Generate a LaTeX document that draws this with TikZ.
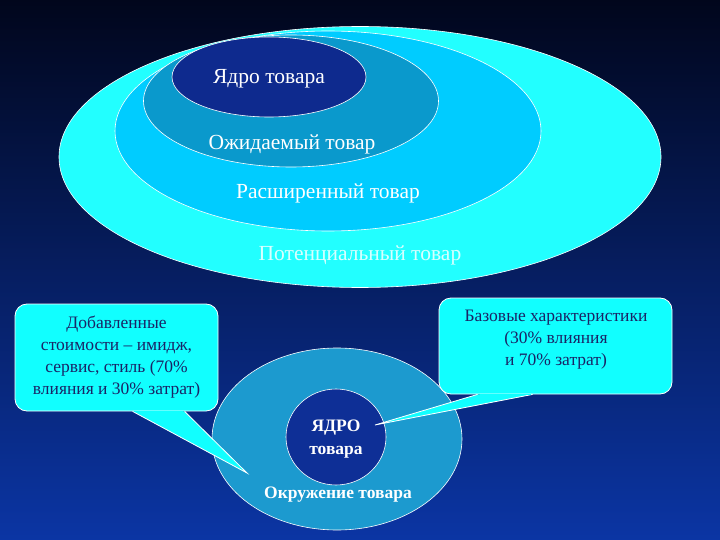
\documentclass[tikz,border=0pt]{standalone}
\usepackage{fontspec}
\setmainfont{Liberation Serif}
\usetikzlibrary{shapes.geometric}

\definecolor{bgtop}{HTML}{01061C}
\definecolor{bgmid}{HTML}{0A2A88}
\definecolor{bgbot}{HTML}{0B35A4}
\definecolor{potcyan}{HTML}{22FFFF}
\definecolor{extblue}{HTML}{00CCFF}
\definecolor{expblue}{HTML}{0A99CC}
\definecolor{coreblue}{HTML}{0E2A8E}
\definecolor{ringblue}{HTML}{1C9ACF}
\definecolor{kernelblue}{HTML}{0E2F96}
\definecolor{callcyan}{HTML}{11FFFF}
\definecolor{calltext}{HTML}{1A2466}
\definecolor{pottext}{HTML}{D8FFFF}

\tikzset{
  oval/.style={ellipse, draw=white, line width=0.6pt, inner sep=0pt},
  ovaltext/.style={text=white, font=\fontsize{21.5}{24}\selectfont},
  bubble/.style={draw=white, line width=0.8pt, fill=callcyan, rounded corners=12pt,
    inner sep=0pt, align=center, text=calltext, font=\fontsize{17.5}{22}\selectfont},
  tipline/.style={fill=callcyan, draw=white, line width=0.8pt, line join=miter},
  envtext/.style={text=white, align=center, font=\fontsize{17.5}{23}\selectfont\bfseries}
}

\begin{document}
\begin{tikzpicture}[x=1pt,y=-1pt]
% Background
\shade[top color=bgtop, middle color=bgmid, bottom color=bgbot] (0,0) rectangle (720,540);
\useasboundingbox (0,0) rectangle (720,540);

% Drawing nested product levels
\node[oval, fill=potcyan, minimum width=602pt, minimum height=261pt] (potential) at (360,157) {};
\node[oval, fill=extblue, minimum width=426pt, minimum height=200pt] (extended) at (328,131) {};
\node[oval, fill=expblue, minimum width=295pt, minimum height=132pt] (expected) at (291,101) {};
\node[oval, fill=coreblue, minimum width=194pt, minimum height=80pt] (core) at (269,77) {};
\node[ovaltext] (corelabel) at (269,79) {Ядро товара};
\node[ovaltext] (expectedlabel) at (292,144) {Ожидаемый товар};
\node[ovaltext] (extendedlabel) at (328,193) {Расширенный товар};
\node[ovaltext, text=pottext] (potentiallabel) at (360,255) {Потенциальный товар};

% Drawing product environment
\node[oval, fill=ringblue, minimum width=250pt, minimum height=182pt] (ring) at (337,439) {};
\node[oval, fill=kernelblue, minimum width=100pt, minimum height=96pt] (kernel) at (336,437) {};
\node[envtext] (kernellabel) at (336,439) {ЯДРО\\товара};
\node[envtext] (envlabel) at (338,495) {Окружение товара};

% Callout: added value
\node[bubble, minimum width=203pt, minimum height=107pt] (added) at (116.5,357.5)
  {Добавленные\\стоимости – имидж,\\сервис, стиль (70\%\\влияния и 30\% затрат)};
\coordinate (addedtip) at (247,473);
\path[tipline] ([xshift=118pt]added.south west) -- (addedtip) -- ([xshift=170pt]added.south west);
\fill[callcyan] ([xshift=119.5pt,yshift=0.6pt]added.south west)
  rectangle ([xshift=168.5pt,yshift=-0.6pt]added.south west);

% Callout: basic features
\node[bubble, minimum width=233pt, minimum height=96pt] (basic) at (555.5,346) {};
\node[text=calltext, align=center, font=\fontsize{17.5}{22}\selectfont] (basiclabel) at (556,340)
  {Базовые характеристики\\(30\% влияния\\и 70\% затрат)};
\coordinate (basictip) at (375,425);
\path[tipline] ([xshift=39pt]basic.south west) -- (basictip) -- ([xshift=94pt]basic.south west);
\fill[callcyan] ([xshift=41pt,yshift=0.6pt]basic.south west)
  rectangle ([xshift=92.5pt,yshift=-0.6pt]basic.south west);
\end{tikzpicture}
\end{document}
